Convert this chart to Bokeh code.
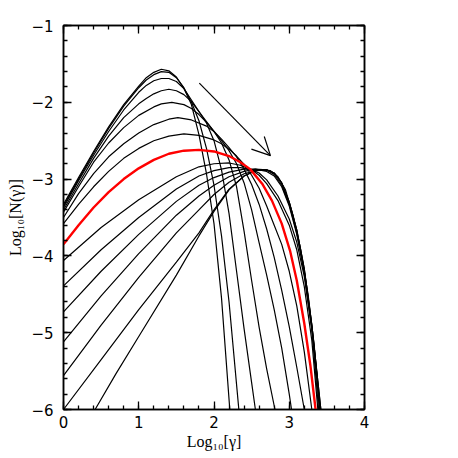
from bokeh.plotting import figure
from bokeh.models import FixedTicker, LinearAxis, Arrow, OpenHead, Range1d
from bokeh.embed import file_html
from bokeh.resources import INLINE

# ---------------- data ----------------
x_ticks = [0, 1, 2, 3, 4]
y_ticks = [-6, -5, -4, -3, -2, -1]
x_minor = [0, 0.2, 0.4, 0.6, 0.8, 1.0, 1.2, 1.4, 1.6, 1.8, 2.0, 2.2, 2.4, 2.6, 2.8, 3.0, 3.2, 3.4, 3.6, 3.8, 4.0]
y_minor = [-6.0, -5.8, -5.6, -5.4, -5.2, -5.0, -4.8, -4.6, -4.4, -4.2, -4.0, -3.8, -3.6, -3.4, -3.2, -3.0,
           -2.8, -2.6, -2.4, -2.2, -2.0, -1.8, -1.6, -1.4, -1.2, -1.0]
x_tick_labels = {0: "0", 1: "1", 2: "2", 3: "3", 4: "4"}
y_tick_labels = {-6: "\u22126", -5: "\u22125", -4: "\u22124", -3: "\u22123", -2: "\u22122", -1: "\u22121"}

# early curves (narrow, high peaks)
e1_x = [0, 0.2, 0.4, 0.6, 0.8, 1.0, 1.1, 1.2, 1.3, 1.4, 1.5, 1.6, 1.7, 1.8, 1.9, 2.0, 2.1, 2.21]
e1_y = [-3.33, -2.98, -2.64, -2.32, -2.03, -1.79, -1.68, -1.61, -1.57, -1.59, -1.67, -1.82, -2.03, -2.42, -2.93, -3.58, -4.55, -6.0]
e2_x = [0, 0.2, 0.4, 0.6, 0.8, 1.0, 1.1, 1.2, 1.3, 1.4, 1.5, 1.6, 1.7, 1.8, 1.9, 2.0, 2.1, 2.2, 2.33]
e2_y = [-3.35, -3.0, -2.66, -2.34, -2.05, -1.81, -1.71, -1.64, -1.60, -1.61, -1.68, -1.81, -2.0, -2.24, -2.6, -3.08, -3.74, -4.6, -6.0]
e3_x = [0, 0.2, 0.4, 0.6, 0.8, 1.0, 1.1, 1.2, 1.3, 1.4, 1.5, 1.6, 1.7, 1.8, 1.9, 2.0, 2.1, 2.2, 2.3, 2.4, 2.5, 2.55]
e3_y = [-3.37, -3.02, -2.69, -2.38, -2.1, -1.87, -1.78, -1.72, -1.69, -1.69, -1.73, -1.82, -1.97, -2.12, -2.27, -2.5, -2.88, -3.45, -4.2, -4.95, -5.65, -6.0]
e4_x = [0, 0.2, 0.4, 0.6, 0.8, 1.0, 1.1, 1.2, 1.3, 1.4, 1.5, 1.6, 1.7, 1.8, 1.9, 2.0, 2.1, 2.2, 2.3, 2.4, 2.5, 2.6, 2.7, 2.81]
e4_y = [-3.40, -3.06, -2.73, -2.44, -2.2, -2.02, -1.95, -1.89, -1.85, -1.83, -1.85, -1.9, -1.99, -2.12, -2.25, -2.38, -2.53, -2.75, -3.1, -3.68, -4.32, -4.93, -5.47, -6.0]
e5_x = [0, 0.2, 0.4, 0.6, 0.8, 1.0, 1.2, 1.3, 1.44, 1.6, 1.7, 1.8, 1.9, 2.0, 2.1, 2.2, 2.3, 2.4, 2.5, 2.6, 2.7, 2.8, 2.9, 3.0, 3.03]
e5_y = [-3.43, -3.1, -2.78, -2.53, -2.33, -2.17, -2.06, -2.02, -2.0, -2.03, -2.08, -2.16, -2.26, -2.38, -2.5, -2.63, -2.8, -3.05, -3.4, -3.83, -4.25, -4.7, -5.2, -5.8, -6.0]
e6_x = [0, 0.2, 0.4, 0.6, 0.8, 1.0, 1.2, 1.4, 1.52, 1.7, 1.9, 2.0, 2.1, 2.2, 2.3, 2.4, 2.5, 2.6, 2.7, 2.8, 2.9, 3.0, 3.1, 3.2]
e6_y = [-3.50, -3.19, -2.93, -2.71, -2.54, -2.40, -2.29, -2.22, -2.20, -2.23, -2.31, -2.38, -2.48, -2.59, -2.71, -2.87, -3.07, -3.33, -3.65, -4.02, -4.45, -4.92, -5.45, -6.0]
e7_x = [0, 0.2, 0.4, 0.6, 0.8, 1.0, 1.2, 1.4, 1.6, 1.8, 2.0, 2.1, 2.2, 2.3, 2.4, 2.5, 2.6, 2.7, 2.8, 2.9, 3.0, 3.1, 3.2, 3.3]
e7_y = [-3.58, -3.33, -3.1, -2.9, -2.73, -2.6, -2.5, -2.44, -2.41, -2.43, -2.49, -2.54, -2.61, -2.7, -2.81, -2.95, -3.12, -3.35, -3.6, -3.85, -4.2, -4.65, -5.25, -6.0]

# highlighted (red) curve
red_x = [0, 0.2, 0.4, 0.6, 0.8, 1.0, 1.2, 1.4, 1.6, 1.8, 2.0, 2.2, 2.35, 2.48, 2.64, 2.77, 2.9, 3.01, 3.1, 3.2, 3.28, 3.35]
red_y = [-3.85, -3.60, -3.37, -3.17, -3.00, -2.86, -2.75, -2.67, -2.63, -2.62, -2.64, -2.70, -2.78, -2.87, -3.06, -3.28, -3.58, -3.93, -4.32, -4.88, -5.42, -6.0]

# late curves (broad, peak near log gamma ~ 2.6)
l1_x = [0, 0.5, 1.0, 1.5, 1.8, 2.0, 2.2, 2.35, 2.5, 2.6, 2.7, 2.85, 3.0, 3.1, 3.2, 3.3, 3.38]
l1_y = [-4.06, -3.63, -3.27, -2.97, -2.84, -2.80, -2.79, -2.82, -2.88, -2.95, -3.06, -3.28, -3.6, -3.92, -4.4, -5.1, -6.0]
l2_x = [0, 0.5, 1.0, 1.5, 1.8, 2.0, 2.2, 2.35, 2.5, 2.6, 2.7, 2.85, 3.0, 3.1, 3.2, 3.3, 3.39]
l2_y = [-4.39, -3.92, -3.5, -3.13, -2.96, -2.89, -2.85, -2.85, -2.88, -2.92, -3.01, -3.22, -3.52, -3.82, -4.27, -4.95, -6.0]
l3_x = [0, 0.5, 1.0, 1.5, 1.8, 2.0, 2.2, 2.4, 2.55, 2.7, 2.8, 2.9, 3.0, 3.1, 3.2, 3.3, 3.36, 3.40]
l3_y = [-4.73, -4.2, -3.72, -3.29, -3.08, -2.98, -2.91, -2.87, -2.87, -2.9, -2.96, -3.1, -3.35, -3.72, -4.22, -4.95, -5.5, -6.0]
l4_x = [0, 0.5, 1.0, 1.5, 1.8, 2.0, 2.2, 2.4, 2.55, 2.7, 2.8, 2.9, 3.0, 3.1, 3.2, 3.3, 3.36, 3.41]
l4_y = [-5.12, -4.52, -3.97, -3.47, -3.22, -3.08, -2.97, -2.9, -2.87, -2.88, -2.94, -3.08, -3.33, -3.7, -4.2, -4.93, -5.48, -6.0]
l5_x = [0, 0.5, 1.0, 1.5, 1.8, 2.0, 2.2, 2.4, 2.6, 2.75, 2.85, 2.95, 3.05, 3.15, 3.25, 3.33, 3.41]
l5_y = [-5.56, -4.9, -4.28, -3.7, -3.4, -3.2, -3.04, -2.93, -2.88, -2.89, -2.97, -3.14, -3.47, -3.91, -4.5, -5.15, -6.0]
l6_x = [0, 0.5, 1.0, 1.5, 1.8, 2.0, 2.2, 2.4, 2.55, 2.7, 2.8, 2.9, 3.0, 3.1, 3.2, 3.3, 3.36, 3.42]
l6_y = [-6.0, -5.35, -4.7, -4.08, -3.70, -3.40, -3.13, -2.96, -2.89, -2.88, -2.92, -3.05, -3.3, -3.66, -4.17, -4.9, -5.45, -6.0]
l7_x = [0.42, 0.7, 1.0, 1.5, 1.8, 2.0, 2.2, 2.4, 2.55, 2.7, 2.8, 2.9, 3.0, 3.1, 3.2, 3.3, 3.36, 3.42]
l7_y = [-6.0, -5.53, -5.05, -4.25, -3.74, -3.42, -3.14, -2.96, -2.89, -2.88, -2.92, -3.05, -3.3, -3.66, -4.17, -4.9, -5.45, -6.0]

black_curves = [(e1_x, e1_y), (e2_x, e2_y), (e3_x, e3_y), (e4_x, e4_y), (e5_x, e5_y), (e6_x, e6_y),
                (e7_x, e7_y), (l1_x, l1_y), (l2_x, l2_y), (l3_x, l3_y), (l4_x, l4_y), (l5_x, l5_y),
                (l6_x, l6_y), (l7_x, l7_y)]

arrow_start = (1.805, -1.75)
arrow_end = (2.75, -2.695)

# ---------------- figure ----------------
TICK_FONT = "DejaVu Sans"
LABEL_FONT = "Liberation Serif"

p = figure(width=440, height=456, output_backend="svg", toolbar_location=None,
           x_range=Range1d(0, 4), y_range=Range1d(-6, -1),
           min_border_left=63, min_border_right=76, min_border_top=25, min_border_bottom=47,
           background_fill_color="white", border_fill_color="white")
p.grid.visible = False
p.outline_line_color = "black"
p.outline_line_width = 1.5

def style_axis(ax, ticks, minor, labels, show_labels):
    ax.ticker = FixedTicker(ticks=ticks, minor_ticks=minor)
    ax.major_tick_in = 8
    ax.major_tick_out = 0
    ax.minor_tick_in = 4
    ax.minor_tick_out = 0
    ax.major_tick_line_width = 1.3
    ax.minor_tick_line_width = 1.3
    ax.major_tick_line_color = "black"
    ax.minor_tick_line_color = "black"
    ax.axis_line_width = 1.5
    ax.axis_line_color = "black"
    if show_labels:
        ax.major_label_overrides = labels
        ax.major_label_text_font = TICK_FONT
        ax.major_label_text_font_size = "15px"
        ax.major_label_text_color = "black"
    else:
        ax.major_label_text_color = None
        ax.major_label_text_font_size = "1px"
        ax.major_label_standoff = 0

style_axis(p.xaxis[0], x_ticks, x_minor, x_tick_labels, True)
style_axis(p.yaxis[0], y_ticks, y_minor, y_tick_labels, True)
p.xaxis[0].major_label_standoff = 6
p.yaxis[0].major_label_standoff = 10
p.xaxis[0].axis_label = "Log\u2081\u2080[\u03b3]"
p.yaxis[0].axis_label = "Log\u2081\u2080[N(\u03b3)]"
for ax in (p.xaxis[0], p.yaxis[0]):
    ax.axis_label_text_font = LABEL_FONT
    ax.axis_label_text_font_size = "16px"
    ax.axis_label_text_font_style = "normal"
    ax.axis_label_text_color = "black"
p.xaxis[0].axis_label_standoff = 2
p.yaxis[0].axis_label_standoff = 4

top_ax = LinearAxis()
right_ax = LinearAxis()
style_axis(top_ax, x_ticks, x_minor, x_tick_labels, False)
style_axis(right_ax, y_ticks, y_minor, y_tick_labels, False)
p.add_layout(top_ax, "above")
p.add_layout(right_ax, "right")

for cx, cy in black_curves:
    p.line(cx, cy, line_color="black", line_width=1.2)
p.line(red_x, red_y, line_color="#ff0000", line_width=2.4)

p.add_layout(Arrow(end=OpenHead(size=18, line_width=1.2, line_color="black"),
                   x_start=arrow_start[0], y_start=arrow_start[1],
                   x_end=arrow_end[0], y_end=arrow_end[1],
                   line_width=1.2, line_color="black"))

open("out.html", "w").write(file_html(p, INLINE))
